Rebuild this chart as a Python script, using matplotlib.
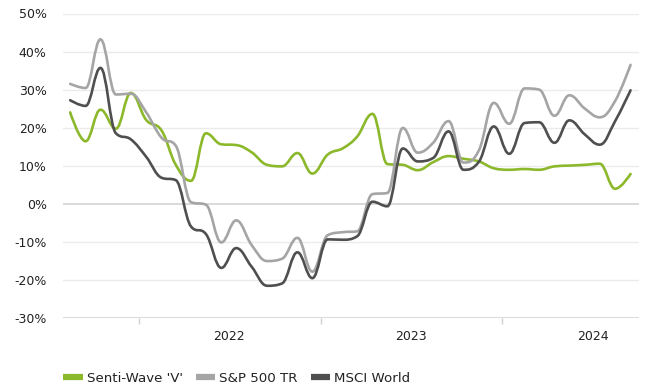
import numpy as np
import pandas as pd
import matplotlib
matplotlib.use("Agg")
import matplotlib.pyplot as plt
import matplotlib.dates as mdates
from matplotlib.path import Path
from matplotlib.patches import PathPatch
from matplotlib.lines import Line2D

# Monthly observations (mid-month), Aug 2021 - Sep 2024, return in %
dates = pd.date_range("2021-08-01", "2024-09-01", freq="MS") + pd.Timedelta(days=14)

senti_wave = [24.0, 16.4, 24.7, 19.7, 29.1, 22.0, 19.2, 10.3, 6.0, 18.5,
              15.6, 15.4, 13.5, 10.2, 9.8, 13.3, 7.9, 12.9, 14.6, 17.6,
              23.6, 10.4, 10.2, 8.8, 10.9, 12.5, 11.8, 11.1, 9.3, 8.9,
              9.1, 8.9, 9.8, 10.0, 10.2, 10.5, 3.9, 7.8]
sp500_tr = [31.5, 30.4, 43.2, 28.7, 28.9, 24.0, 17.3, 15.3, 0.4, -0.3,
            -10.2, -4.4, -10.9, -15.1, -14.5, -9.0, -17.9, -8.3, -7.5, -7.3,
            2.5, 2.8, 19.9, 13.4, 16.0, 21.7, 10.8, 14.0, 26.5, 21.0,
            30.3, 30.0, 23.1, 28.5, 25.0, 22.7, 27.0, 36.5]
msci_world = [27.2, 25.7, 35.7, 18.5, 16.9, 12.3, 6.8, 6.2, -6.0, -8.0,
              -16.9, -11.7, -16.6, -21.6, -21.0, -12.8, -19.6, -9.4, -9.5, -8.6,
              0.5, -0.7, 14.5, 11.1, 12.0, 19.0, 8.9, 11.0, 20.3, 13.1,
              21.2, 21.4, 16.0, 21.9, 18.2, 15.5, 21.7, 29.8]

series_names = ["Senti-Wave 'V'", "S&P 500 TR", "MSCI World"]
series_colors = ["#8cb82b", "#a5a5a5", "#4f4f4f"]

y_ticks = [-30, -20, -10, 0, 10, 20, 30, 40, 50]
year_labels = ["2022", "2023", "2024"]


def spline_path(x, y, smoothing=1.5):
    """Smooth Bezier path through the points (control points kept within neighbours)."""
    n = len(x)
    denom = smoothing + 1.0
    left = [(x[i], y[i]) for i in range(n)]
    right = [(x[i], y[i]) for i in range(n)]
    for i in range(1, n - 1):
        lx = (smoothing * x[i] + x[i - 1]) / denom
        ly = (smoothing * y[i] + y[i - 1]) / denom
        rx = (smoothing * x[i] + x[i + 1]) / denom
        ry = (smoothing * y[i] + y[i + 1]) / denom
        if rx != lx:
            corr = (ry - ly) * (rx - x[i]) / (rx - lx) + y[i] - ry
            ly += corr
            ry += corr
        if ly > y[i - 1] and ly > y[i]:
            ly = max(y[i - 1], y[i]); ry = 2 * y[i] - ly
        elif ly < y[i - 1] and ly < y[i]:
            ly = min(y[i - 1], y[i]); ry = 2 * y[i] - ly
        if ry > y[i + 1] and ry > y[i]:
            ry = max(y[i + 1], y[i]); ly = 2 * y[i] - ry
        elif ry < y[i + 1] and ry < y[i]:
            ry = min(y[i + 1], y[i]); ly = 2 * y[i] - ry
        left[i] = (lx, ly)
        right[i] = (rx, ry)
    verts = [(x[0], y[0])]
    codes = [Path.MOVETO]
    for i in range(1, n):
        verts += [right[i - 1], left[i], (x[i], y[i])]
        codes += [Path.CURVE4] * 3
    return Path(verts, codes)


plt.rcParams["font.family"] = ["DejaVu Sans"]
fig = plt.figure(figsize=(6.46, 3.92), dpi=100)
ax = fig.add_axes([62.7 / 646, 1 - 317.7 / 392, (639 - 62.7) / 646, (317.7 - 13.5) / 392])

xnum = mdates.date2num(dates)
for vals, col in zip([senti_wave, sp500_tr, msci_world], series_colors):
    p = spline_path(list(xnum), list(vals))
    ax.add_patch(PathPatch(p, facecolor="none", edgecolor=col, lw=1.9,
                           capstyle="round", joinstyle="round", zorder=3))

ax.set_xlim(mdates.date2num(pd.Timestamp("2021-07-31")),
            mdates.date2num(pd.Timestamp("2024-10-02")))
ax.set_ylim(-30, 50)

# grid
for v in y_ticks:
    col = "#cfcfcf" if v in (0, -30) else "#ebebeb"
    ax.axhline(v, color=col, lw=1.1 if v in (0, -30) else 1.0, zorder=1)
for s in ax.spines.values():
    s.set_visible(False)

ax.set_yticks(y_ticks)
ax.set_yticklabels([f"{v}%" for v in y_ticks])
ax.tick_params(axis="y", length=0, pad=11.5, labelsize=9, labelcolor="#222222")

years = [2022, 2023, 2024]
ax.set_xticks([mdates.date2num(pd.Timestamp(f"{y}-01-01")) for y in years])
ax.set_xticklabels([])
ax.set_xticks([mdates.date2num(pd.Timestamp(f"{y}-07-01")) for y in years], minor=True)
ax.set_xticklabels(year_labels, minor=True)
ax.tick_params(axis="x", which="major", length=4.5, width=1, color="#cfcfcf", direction="out")
ax.tick_params(axis="x", which="minor", length=0, pad=9, labelsize=9, labelcolor="#222222")

handles = [Line2D([], [], color=c, lw=4.5, solid_capstyle="butt") for c in series_colors]
fig.legend(handles, series_names, loc="center left", bbox_to_anchor=(58 / 646, 1 - 378 / 392),
           ncol=3, frameon=False, fontsize=9.6, handlelength=1.45, handletextpad=0.3,
           columnspacing=1.0, labelcolor="#222222", borderaxespad=0)

fig.savefig("out.png", dpi=100, facecolor="white")
